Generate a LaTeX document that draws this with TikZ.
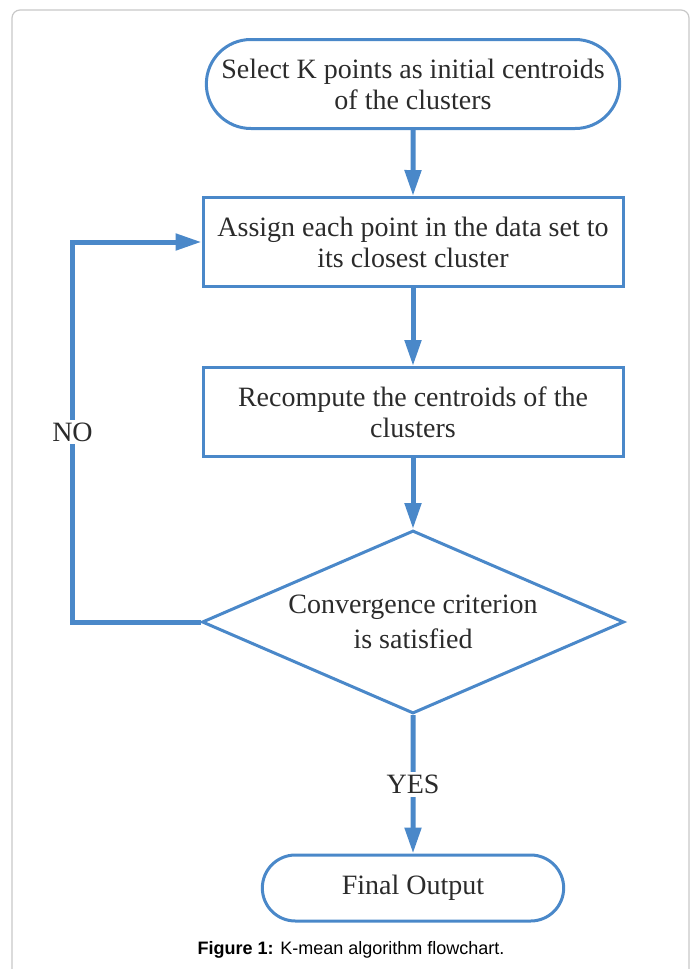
\documentclass[tikz,border=0pt]{standalone}
\usepackage{fontspec}
\setmainfont{Liberation Serif}
\newfontfamily\capfont{Liberation Sans}
\usetikzlibrary{arrows.meta,shapes.geometric,shapes.misc}
\definecolor{FlowBlue}{HTML}{4A88C9}
\definecolor{FrameGray}{HTML}{C8C8C8}
\definecolor{TextGray}{HTML}{2B2B2B}

\begin{document}
\begin{tikzpicture}[x=1pt, y=-1pt,
    box/.style={draw=FlowBlue, line width=3pt, minimum width=420pt, minimum height=89pt,
                align=center, font=\fontsize{28}{31}\selectfont, text=TextGray},
    term/.style={box, rounded rectangle},
    decide/.style={box, diamond, aspect=2.3, inner sep=0pt,
                   minimum width=422pt, minimum height=183pt},
    arrow/.style={-{Triangle[length=26pt, width=16pt]}, FlowBlue, line width=5pt},
    lbl/.style={fill=white, text=TextGray, font=\fontsize{28}{31}\selectfont, inner sep=3pt},
  ]
    \useasboundingbox (0,0) rectangle (695,969);
    \draw[FrameGray, line width=1.2pt, rounded corners=8pt] (12,969) -- (12,10) -- (689,10) -- (689,969);

    \node[term] (sel) at (413,84) {Select K points as initial centroids\\of the clusters};
    \node[box] (asg) at (413,242) {Assign each point in the data set to\\its closest cluster};
    \node[box] (rec) at (413,412) {Recompute the centroids of the\\clusters};
    \node[decide, font=\fontsize{28}{35}\selectfont] (conv) at (413,622) {Convergence criterion\\is satisfied};
    \node[term, minimum width=308pt, minimum height=66pt] (out) at (413,888) {Final Output};
    \node[font=\capfont\fontsize{18}{20}\selectfont] (cap) at (351,950) {\textbf{Figure 1:} K-mean algorithm flowchart.};

    \draw[arrow] (sel)  -- (asg);
    \draw[arrow] (asg)  -- (rec);
    \draw[arrow] (rec)  -- (conv);
    \draw[arrow] (conv) -- node[lbl] {YES} (out);
    \draw[arrow] (conv.west) -- ++(-128,0) |- node[lbl, pos=0.25] {NO} (asg.west);
  \end{tikzpicture}
\end{document}
